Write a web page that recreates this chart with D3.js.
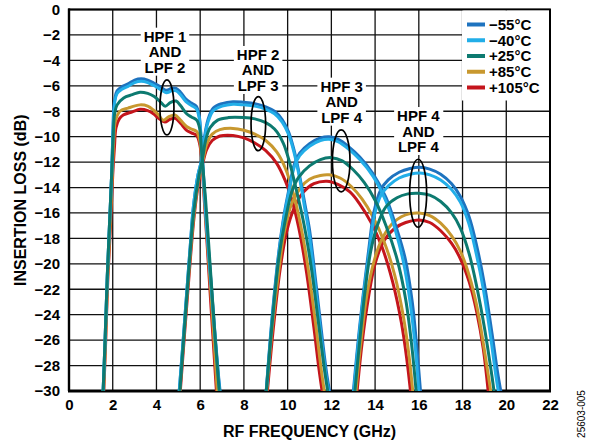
<!DOCTYPE html>
<html><head><meta charset="utf-8">
<script src="https://cdn.jsdelivr.net/npm/d3@7"></script>
<style>
html,body{margin:0;padding:0;background:#fff;}
svg{display:block;font-family:"Liberation Sans",Arial,sans-serif;}
</style></head>
<body><svg id="chart" width="596" height="445"></svg>
<script>
// ---------- data ----------
const xTicks = [0,2,4,6,8,10,12,14,16,18,20,22];
const yTicks = [0,-2,-4,-6,-8,-10,-12,-14,-16,-18,-20,-22,-24,-26,-28,-30];
const temps = ["\u221255\u00B0C","\u221240\u00B0C","+25\u00B0C","+85\u00B0C","+105\u00B0C"];
const bandNames = [["HPF 1","AND","LPF 2"],["HPF 2","AND","LPF 3"],["HPF 3","AND","LPF 4"],["HPF 4","AND","LPF 4"]];

// Band 1: HPF 1 + LPF 2  [GHz, dB]
const b1_m55 = [[1.55,-30.5],[1.65,-26],[1.75,-21],[1.85,-17],[1.95,-13],[2.0,-10],[2.04,-8],[2.1,-7],[2.2,-6.4],[2.4,-6.1],[2.7,-5.85],[3.0,-5.55],[3.3,-5.45],[3.6,-5.55],[3.9,-5.8],[4.2,-6.1],[4.45,-6.35],[4.7,-6.2],[4.9,-6.2],[5.1,-6.5],[5.35,-7.05],[5.6,-7.35],[5.82,-7.6],[5.95,-8.3],[6.02,-9.5],[6.08,-11],[6.15,-13],[6.3,-17],[6.5,-21.5],[6.7,-26],[6.85,-29],[6.97,-31]];
const b1_m40 = [[1.55,-30.5],[1.65,-26],[1.75,-21],[1.85,-17],[1.95,-13],[2.0,-10.2],[2.05,-8.2],[2.1,-7.2],[2.2,-6.6],[2.4,-6.3],[2.7,-6.05],[3.0,-5.75],[3.3,-5.65],[3.6,-5.75],[3.9,-6.0],[4.2,-6.3],[4.45,-6.55],[4.7,-6.4],[4.9,-6.4],[5.1,-6.7],[5.35,-7.25],[5.6,-7.55],[5.82,-7.8],[5.95,-8.5],[6.02,-9.7],[6.08,-11.2],[6.15,-13.2],[6.3,-17.2],[6.5,-21.7],[6.7,-26.2],[6.85,-29.2],[6.95,-31]];
const b1_p25 = [[1.55,-30.5],[1.65,-26],[1.75,-21],[1.85,-17],[1.95,-13],[2.02,-10],[2.08,-8.3],[2.2,-7.5],[2.5,-6.95],[2.9,-6.7],[3.25,-6.5],[3.6,-6.6],[3.9,-6.85],[4.2,-7.3],[4.4,-7.6],[4.65,-7.3],[4.9,-7.2],[5.1,-7.55],[5.38,-8.2],[5.6,-8.45],[5.84,-8.7],[5.97,-9.3],[6.05,-10.8],[6.12,-12.3],[6.25,-15],[6.45,-20],[6.65,-25],[6.8,-28.5],[6.92,-31]];
const b1_p85 = [[1.57,-30.5],[1.67,-26],[1.77,-21],[1.88,-17],[1.98,-13],[2.05,-10.2],[2.12,-8.8],[2.33,-8.0],[2.7,-7.75],[3.25,-7.5],[3.6,-7.6],[3.86,-7.9],[4.1,-8.3],[4.31,-8.7],[4.55,-8.45],[4.85,-8.3],[5.1,-8.7],[5.38,-9.2],[5.6,-9.4],[5.84,-9.6],[5.98,-10.3],[6.07,-11.6],[6.15,-13.5],[6.3,-17.5],[6.5,-22.5],[6.65,-26.5],[6.82,-31]];
const b1_p105 = [[1.58,-30.5],[1.68,-26],[1.78,-21],[1.9,-17],[2.0,-13],[2.08,-10.8],[2.15,-9.3],[2.3,-8.6],[2.48,-8.3],[2.9,-8.05],[3.25,-7.85],[3.6,-7.95],[3.86,-8.2],[4.1,-8.55],[4.39,-8.85],[4.6,-8.65],[4.85,-8.55],[5.1,-8.95],[5.38,-9.5],[5.6,-9.7],[5.84,-9.9],[5.98,-10.6],[6.07,-11.8],[6.15,-14],[6.3,-18],[6.5,-23.5],[6.65,-27.5],[6.78,-31]];

// Band 2: HPF 2 + LPF 3
const b2_m55 = [[5.02,-30.5],[5.2,-26.5],[5.37,-22.6],[5.55,-18.5],[5.69,-15.5],[5.9,-13],[6.07,-11.8],[6.2,-10],[6.35,-8.7],[6.6,-7.75],[7.0,-7.4],[7.5,-7.25],[8.0,-7.3],[8.5,-7.4],[9.0,-7.65],[9.4,-8.0],[9.75,-8.65],[10.05,-9.65],[10.3,-11.1],[10.55,-13.1],[10.8,-15.4],[11.0,-17.3],[11.3,-21.6],[11.6,-26.1],[11.8,-28.8],[11.97,-30.5]];
const b2_m40 = [[5.02,-30.5],[5.2,-26.5],[5.37,-22.6],[5.55,-18.5],[5.69,-15.5],[5.9,-13],[6.07,-11.8],[6.2,-10.2],[6.35,-8.9],[6.6,-7.95],[7.0,-7.6],[7.5,-7.45],[8.0,-7.5],[8.5,-7.6],[9.0,-7.85],[9.4,-8.2],[9.75,-8.85],[10.05,-9.85],[10.3,-11.3],[10.55,-13.3],[10.78,-15.6],[10.97,-17.5],[11.27,-21.8],[11.57,-26.3],[11.77,-29],[11.93,-30.5]];
const b2_p25 = [[5.05,-30.5],[5.37,-23],[5.7,-16],[5.95,-13],[6.1,-11.8],[6.25,-10.3],[6.45,-9.3],[6.8,-8.7],[7.3,-8.5],[8.0,-8.5],[8.5,-8.6],[9.0,-8.9],[9.4,-9.4],[9.8,-10.5],[10.1,-12.1],[10.4,-14.2],[10.75,-16.9],[11.1,-20.5],[11.4,-24.5],[11.7,-28.5],[11.88,-30.5]];
const b2_p85 = [[5.05,-30.5],[5.4,-22.5],[5.72,-16],[5.97,-13],[6.12,-11.9],[6.3,-10.6],[6.55,-9.8],[6.9,-9.45],[7.5,-9.35],[8.0,-9.5],[8.5,-9.8],[9.0,-10.3],[9.5,-11.2],[9.9,-12.5],[10.25,-14.4],[10.6,-17],[10.95,-20.5],[11.3,-25],[11.55,-28.5],[11.72,-30.5]];
const b2_p105 = [[5.07,-30.5],[5.42,-22.5],[5.74,-16],[5.99,-13],[6.13,-12],[6.3,-11],[6.55,-10.3],[6.9,-9.95],[7.5,-9.9],[8.0,-10.1],[8.5,-10.5],[9.0,-11.1],[9.5,-12.1],[9.9,-13.5],[10.2,-15],[10.5,-17.1],[10.85,-20.5],[11.2,-25],[11.45,-28.5],[11.62,-30.5]];

// Band 3: HPF 3 + LPF 4
const b3_m55 = [[9.0,-30.5],[9.3,-24],[9.6,-19],[9.85,-16],[10.1,-13.8],[10.3,-12.2],[10.55,-11.3],[11.0,-10.55],[11.5,-10.1],[11.9,-10.0],[12.3,-10.2],[12.8,-10.8],[13.3,-11.6],[13.9,-12.9],[14.5,-14.8],[15.0,-17.3],[15.38,-19.6],[15.7,-23],[15.92,-26.8],[16.1,-30.5]];
const b3_m40 = [[9.0,-30.5],[9.3,-24.2],[9.6,-19.2],[9.85,-16.2],[10.1,-14],[10.3,-12.4],[10.55,-11.5],[11.0,-10.75],[11.5,-10.3],[11.9,-10.2],[12.3,-10.4],[12.8,-11.0],[13.3,-11.8],[13.9,-13.1],[14.5,-15.1],[14.95,-17.5],[15.3,-19.9],[15.6,-23],[15.85,-26.8],[16.02,-30.5]];
const b3_p25 = [[9.0,-30.5],[9.3,-24.5],[9.6,-19.5],[9.9,-16.5],[10.2,-14.3],[10.5,-13.2],[11.0,-12.3],[11.5,-11.8],[12.0,-11.65],[12.5,-11.9],[13.0,-12.6],[13.5,-13.6],[14.0,-15],[14.5,-17],[15.0,-19.6],[15.4,-22.8],[15.7,-26.8],[15.9,-30.5]];
const b3_p85 = [[9.02,-30.5],[9.3,-25],[9.6,-20.5],[9.85,-17.5],[10.2,-15.2],[10.6,-14],[11.0,-13.35],[11.5,-13.05],[11.9,-13.0],[12.4,-13.25],[12.9,-13.9],[13.4,-14.9],[13.9,-16.3],[14.4,-18.2],[14.9,-20.9],[15.3,-24.2],[15.55,-27.2],[15.75,-30.5]];
const b3_p105 = [[9.05,-30.5],[9.35,-25],[9.65,-20.5],[9.95,-17.5],[10.3,-15.6],[10.7,-14.4],[11.2,-13.7],[11.8,-13.5],[12.3,-13.75],[12.85,-14.35],[13.3,-15.3],[13.8,-16.7],[14.3,-18.6],[14.8,-21.4],[15.2,-24.6],[15.45,-27.5],[15.65,-30.5]];

// Band 4: HPF 4 + LPF 4
const b4_m55 = [[12.98,-30.5],[13.2,-26.5],[13.45,-22.5],[13.7,-19],[13.95,-15.9],[14.25,-14.2],[14.6,-13.4],[15.1,-12.8],[15.6,-12.5],[16.05,-12.4],[16.5,-12.55],[17.0,-12.95],[17.5,-13.7],[17.9,-14.7],[18.3,-16.3],[18.65,-18.6],[19.0,-21.6],[19.35,-25.5],[19.6,-28.5],[19.8,-30.5]];
const b4_m40 = [[13.0,-30.5],[13.22,-26.5],[13.47,-22.5],[13.72,-19.2],[13.97,-16.2],[14.27,-14.6],[14.62,-13.85],[15.1,-13.25],[15.6,-12.95],[16.05,-12.85],[16.5,-13.0],[17.0,-13.4],[17.5,-14.15],[17.9,-15.15],[18.28,-16.8],[18.6,-19.0],[18.95,-22.0],[19.28,-25.7],[19.5,-28.5],[19.68,-30.5]];
const b4_p25 = [[13.05,-30.5],[13.3,-26],[13.55,-22],[13.8,-19],[14.1,-17],[14.5,-15.5],[15.0,-14.8],[15.5,-14.5],[16.0,-14.45],[16.5,-14.6],[17.0,-15.1],[17.5,-16.0],[17.9,-17.2],[18.3,-19.2],[18.65,-21.8],[19.0,-25.0],[19.3,-28.3],[19.48,-30.5]];
const b4_p85 = [[13.1,-30.5],[13.35,-26.2],[13.62,-22.5],[13.95,-19.8],[14.3,-18.1],[14.75,-16.9],[15.2,-16.3],[15.6,-16.05],[16.0,-16.0],[16.5,-16.2],[17.0,-16.8],[17.5,-17.8],[17.9,-19.0],[18.3,-20.9],[18.65,-23.3],[19.0,-26.8],[19.33,-30.5]];
const b4_p105 = [[13.15,-30.5],[13.4,-26.3],[13.7,-22.6],[14.0,-20.0],[14.4,-18.2],[14.9,-17.2],[15.4,-16.75],[16.0,-16.55],[16.5,-16.75],[17.0,-17.4],[17.5,-18.4],[17.9,-19.6],[18.3,-21.4],[18.65,-23.8],[18.95,-26.7],[19.2,-30.5]];

const seriesM55 = [b1_m55,b2_m55,b3_m55,b4_m55];
const seriesM40 = [b1_m40,b2_m40,b3_m40,b4_m40];
const seriesP25 = [b1_p25,b2_p25,b3_p25,b4_p25];
const seriesP85 = [b1_p85,b2_p85,b3_p85,b4_p85];
const seriesP105 = [b1_p105,b2_p105,b3_p105,b4_p105];

// ---------- layout / style ----------
const colors = ["#1e73bf","#22aee8","#0d7a70","#c8982f","#c4151c"];
const allSeries = [seriesM55,seriesM40,seriesP25,seriesP85,seriesP105];
const drawOrder = [4,3,0,1,2];

const svg = d3.select("#chart");
const L = 69, R = 550, T = 9.5, B = 391;
const x = d3.scaleLinear().domain([0,22]).range([L,R]);
const y = d3.scaleLinear().domain([-30,0]).range([B,T]);

svg.append("defs").append("clipPath").attr("id","clip")
  .append("rect").attr("x",L).attr("y",T).attr("width",R-L).attr("height",B-T);

// grid
const grid = svg.append("g").attr("stroke","#111").attr("stroke-width",1.3);
grid.selectAll("line.v").data(xTicks).join("line")
  .attr("x1",d=>x(d)).attr("x2",d=>x(d)).attr("y1",T).attr("y2",B);
grid.selectAll("line.h").data(yTicks).join("line").attr("class","h")
  .attr("x1",L).attr("x2",R).attr("y1",d=>y(d)).attr("y2",d=>y(d));

// frame
svg.append("rect").attr("x",L).attr("y",T).attr("width",R-L).attr("height",B-T)
  .attr("fill","none").attr("stroke","#000").attr("stroke-width",2);
svg.append("line").attr("x1",L-1).attr("x2",R+1).attr("y1",B).attr("y2",B)
  .attr("stroke","#000").attr("stroke-width",2.8);
svg.append("line").attr("x1",L).attr("x2",L).attr("y1",T-1).attr("y2",B)
  .attr("stroke","#000").attr("stroke-width",2.4);

// band labels with white background
const labelAt = [[4.39,-2.53],[8.65,-3.97],[12.47,-6.46],[15.98,-8.77]];
bandNames.forEach((lines,i)=>{
  const g = svg.append("g");
  const bg = g.append("rect").attr("fill","#fff");
  const t = g.append("text").attr("text-anchor","middle").attr("font-weight","bold")
    .attr("font-size",15).attr("fill","#000");
  lines.forEach((s,j)=>{
    t.append("tspan").attr("x",x(labelAt[i][0])).attr("y",y(labelAt[i][1])+j*15.5).text(s);
  });
  const bb = t.node().getBBox();
  bg.attr("x",bb.x-3).attr("y",bb.y).attr("width",bb.width+6).attr("height",bb.height);
});

// curves
const line = d3.line().x(d=>x(d[0])).y(d=>y(d[1])).curve(d3.curveCatmullRom.alpha(0.5));
const plot = svg.append("g").attr("clip-path","url(#clip)");
drawOrder.forEach(k=>{
  allSeries[k].forEach(band=>{
    plot.append("path").attr("d",line(band)).attr("fill","none")
      .attr("stroke",colors[k]).attr("stroke-width",3).attr("stroke-linejoin","round");
  });
});

// ovals
const ovals = [[4.48,-7.7,7,27.5],[8.66,-8.98,7.3,27],[12.45,-11.9,8.8,31],[15.97,-14.45,8.5,34]];
svg.selectAll("ellipse.ov").data(ovals).join("ellipse")
  .attr("cx",d=>x(d[0])).attr("cy",d=>y(d[1])).attr("rx",d=>d[2]).attr("ry",d=>d[3])
  .attr("fill","none").attr("stroke","#000").attr("stroke-width",1.7);

// legend
const lg = svg.append("g");
lg.append("rect").attr("x",462).attr("y",T+1).attr("width",R-462-1).attr("height",90).attr("fill","#fff");
temps.forEach((t,i)=>{
  const yy = 24.5 + i*15.75;
  lg.append("line").attr("x1",467).attr("x2",485).attr("y1",yy).attr("y2",yy)
    .attr("stroke",colors[i]).attr("stroke-width",4);
  lg.append("text").attr("x",489).attr("y",yy).attr("dy","0.36em")
    .attr("font-size",15).attr("font-weight","bold").text(t);
});

// axes
const xAxis = svg.append("g").attr("transform",`translate(0,${B})`)
  .call(d3.axisBottom(x).tickValues(xTicks).tickSize(0).tickPadding(8).tickFormat(d3.format("d")));
const yAxis = svg.append("g").attr("transform",`translate(${L},0)`)
  .call(d3.axisLeft(y).tickValues(yTicks).tickSize(0).tickPadding(9).tickFormat(d3.format("d")));
[xAxis,yAxis].forEach(a=>{
  a.select(".domain").remove();
  a.selectAll("text").attr("font-size",15).attr("font-weight","bold")
    .attr("font-family","'Liberation Sans',Arial,sans-serif").attr("fill","#000");
});

// axis titles
svg.append("text").attr("x",(L+R)/2).attr("y",436.5).attr("text-anchor","middle")
  .attr("font-size",16).attr("font-weight","bold").text("RF FREQUENCY (GHz)");
svg.append("text").attr("transform",`translate(26,${(T+B)/2}) rotate(-90)`).attr("text-anchor","middle")
  .attr("font-size",16).attr("font-weight","bold").text("INSERTION LOSS (dB)");
svg.append("text").attr("transform","translate(585,414) rotate(-90)").attr("text-anchor","middle")
  .attr("font-size",10).text("25603-005");
</script></body></html>
